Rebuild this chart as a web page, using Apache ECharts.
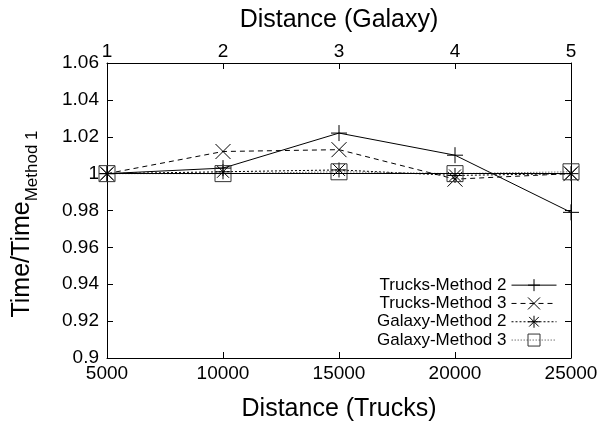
<!DOCTYPE html>
<html><head><meta charset="utf-8">
<script src="https://cdn.jsdelivr.net/npm/echarts@6/dist/echarts.min.js"></script>
<style>html,body{margin:0;padding:0;background:#fff}#c{width:603px;height:428px}</style>
</head><body><div id="c"></div>
<script>
const xTrucks = [5000, 10000, 15000, 20000, 25000];
const xGalaxy = [1, 2, 3, 4, 5];
const trucksM2 = [1.000, 1.003, 1.022, 1.010, 0.979];
const trucksM3 = [1.000, 1.012, 1.013, 0.997, 1.000];
const galaxyM2 = [1.000, 1.001, 1.002, 0.999, 1.000];
const galaxyM3 = [1.000, 1.000, 1.001, 1.000, 1.001];
const seriesNames = ['Trucks-Method 2', 'Trucks-Method 3', 'Galaxy-Method 2', 'Galaxy-Method 3'];
const titleBottom = 'Distance (Trucks)';
const titleTop = 'Distance (Galaxy)';
const titleLeft = 'Time/Time{b|Method 1}';

const FONT = 'Liberation Sans';
const PLUS = 'path://M0,7.5H15M7.5,0V15';
const CROSS = 'path://M0,0L15,15M15,0L0,15';
const STAR = 'path://M0,7.5H15M7.5,0V15M1.5,1.5L13.5,13.5M13.5,1.5L1.5,13.5';
const SQUARE = 'path://M0,0H15V15H0Z';

function pairs(xs, ys) { return xs.map((x, i) => [x, ys[i]]); }

const chart = echarts.init(document.getElementById('c'));
const axisCommon = {
  axisLine: { show: true, onZero: false, lineStyle: { color: '#000', width: 1 } },
  axisTick: { show: true, inside: true, length: 6, lineStyle: { color: '#000' } },
  splitLine: { show: false },
  axisLabel: { color: '#000', fontFamily: FONT, fontSize: 19 }
};
const option = {
  animation: false,
  backgroundColor: '#fff',
  grid: { left: 107, right: 32, top: 63, bottom: 70 },
  graphic: [
    { type: 'text', x: 339, y: 409, silent: true,
      style: { text: titleBottom, fill: '#000', font: '25px "Liberation Sans"', align: 'center', verticalAlign: 'middle' } },
    { type: 'text', x: 339, y: 20, silent: true,
      style: { text: titleTop, fill: '#000', font: '25px "Liberation Sans"', align: 'center', verticalAlign: 'middle' } },
    { type: 'text', x: 22, y: 224, rotation: Math.PI / 2, silent: true,
      style: { text: titleLeft, fill: '#000', fontFamily: FONT, fontSize: 25, lineHeight: 37,
        align: 'center', verticalAlign: 'middle',
        rich: { b: { fontFamily: FONT, fontSize: 17, lineHeight: 15, verticalAlign: 'bottom', fill: '#000' } } } }
  ],
  xAxis: [
    Object.assign({}, axisCommon, {
      type: 'value', min: 5000, max: 25000, interval: 5000, position: 'bottom',
      axisLabel: Object.assign({}, axisCommon.axisLabel, { margin: 6, formatter: v => String(v) })
    }),
    Object.assign({}, axisCommon, {
      type: 'value', min: 1, max: 5, interval: 1, position: 'top',
      axisLabel: Object.assign({}, axisCommon.axisLabel, { margin: 2, formatter: v => String(v) })
    })
  ],
  yAxis: [
    Object.assign({}, axisCommon, {
      type: 'value', min: 0.9, max: 1.06, interval: 0.02, position: 'left',
      axisLabel: Object.assign({}, axisCommon.axisLabel, { margin: 8,
        formatter: v => String(parseFloat(v.toFixed(2))) })
    }),
    Object.assign({}, axisCommon, {
      type: 'value', min: 0.9, max: 1.06, interval: 0.02, position: 'right',
      axisLabel: { show: false }
    })
  ],
  legend: {
    data: seriesNames,
    right: 46, top: 276, orient: 'vertical', align: 'right', padding: 0,
    itemGap: 0, itemWidth: 45, itemHeight: 15,
    lineStyle: { width: 1 },
    itemStyle: { borderWidth: 1 },
    textStyle: { color: '#000', fontFamily: FONT, fontSize: 17, lineHeight: 18.3 }
  },
  series: [
    { name: seriesNames[0], type: 'line', xAxisIndex: 0, data: pairs(xTrucks, trucksM2),
      symbol: PLUS, symbolSize: 16,
      lineStyle: { color: '#000', width: 1, type: 'solid' },
      itemStyle: { color: 'transparent', borderColor: '#000', borderWidth: 1 } },
    { name: seriesNames[1], type: 'line', xAxisIndex: 0, data: pairs(xTrucks, trucksM3),
      symbol: CROSS, symbolSize: 15,
      lineStyle: { color: '#000', width: 1, type: [5, 4] },
      itemStyle: { color: 'transparent', borderColor: '#000', borderWidth: 1 } },
    { name: seriesNames[2], type: 'line', xAxisIndex: 1, data: pairs(xGalaxy, galaxyM2),
      symbol: STAR, symbolSize: 15,
      lineStyle: { color: '#000', width: 1, type: [2, 2] },
      itemStyle: { color: 'transparent', borderColor: '#000', borderWidth: 1 } },
    { name: seriesNames[3], type: 'line', xAxisIndex: 1, data: pairs(xGalaxy, galaxyM3),
      symbol: SQUARE, symbolSize: 16,
      lineStyle: { color: '#777', width: 1, type: [1.5, 1.5] },
      itemStyle: { color: 'transparent', borderColor: '#333', borderWidth: 1 },
      markLine: { silent: true, symbol: 'none', label: { show: false },
        lineStyle: { color: '#000', width: 1, type: 'solid' }, data: [{ yAxis: 1 }] } }
  ]
};
chart.setOption(option);
</script></body></html>
